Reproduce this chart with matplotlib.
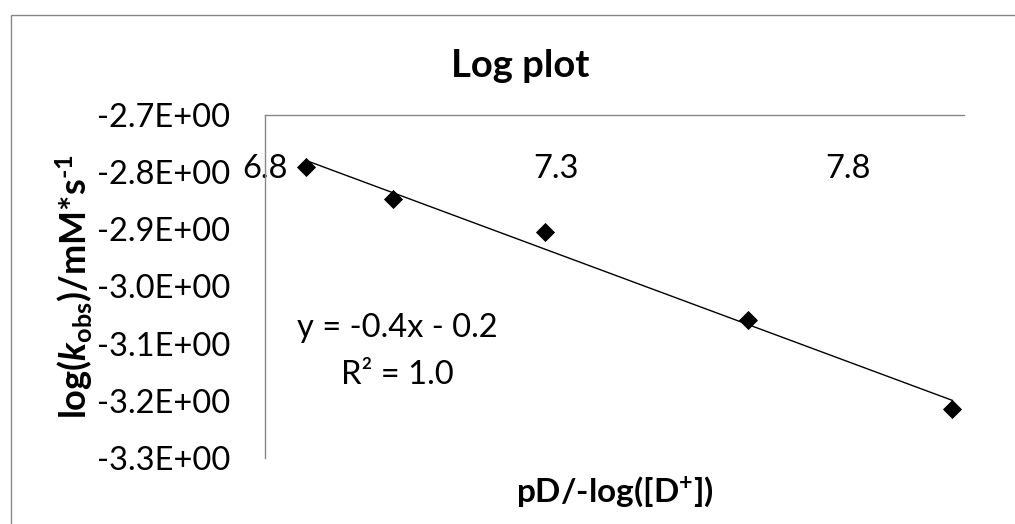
import matplotlib
matplotlib.use('Agg')
import matplotlib.pyplot as plt
import numpy as np
from matplotlib.ticker import FuncFormatter
from matplotlib.patches import Rectangle

# data
pD = [6.87, 7.02, 7.28, 7.63, 7.98]
log_kobs = [-2.791, -2.847, -2.905, -3.059, -3.214]
x_ticks = [6.8, 7.3, 7.8]
y_ticks = [-2.7, -2.8, -2.9, -3.0, -3.1, -3.2, -3.3]

plt.rcParams['font.family'] = ['Lato', 'DejaVu Sans']
plt.rcParams['mathtext.fontset'] = 'custom'
plt.rcParams['mathtext.rm'] = 'Lato:bold'
plt.rcParams['mathtext.bf'] = 'Lato:bold'
plt.rcParams['mathtext.it'] = 'Lato:italic:bold'

grey = '#878787'

fig = plt.figure(figsize=(10.15, 5.24), dpi=100)
ax = fig.add_axes([265/1015, 1 - 458/524, 699/1015, 343/524])

# outer chart border (only top/left visible)
fig.patches.append(Rectangle((11/1015, -0.1), 1.2, 1 - 15/524 + 0.1, transform=fig.transFigure,
                             fill=False, edgecolor=grey, lw=1.0))

ax.scatter(pD, log_kobs, marker='D', s=95, color='black', zorder=3, linewidths=0)

# linear trendline
slope, intercept = np.polyfit(pD, log_kobs, 1)
xs = np.array([min(pD), max(pD)])
ax.plot(xs, slope * xs + intercept, color='black', lw=1.0)
r2 = np.corrcoef(pD, log_kobs)[0, 1] ** 2

ax.set_xlim(6.8, 8.0)
ax.set_ylim(-3.3, -2.7)
ax.set_xticks(x_ticks)
ax.set_yticks(y_ticks)
ax.yaxis.set_major_formatter(FuncFormatter(lambda v, p: f'{v:.1E}'))
ax.xaxis.set_major_formatter(FuncFormatter(lambda v, p: f'{v:.1f}'))

for s in ['bottom', 'right']:
    ax.spines[s].set_visible(False)
for s in ['top', 'left']:
    ax.spines[s].set_color(grey)
    ax.spines[s].set_linewidth(1.0)

ax.tick_params(axis='x', top=True, bottom=False, labeltop=True, labelbottom=False,
               length=0, pad=-50, labelsize=23.5)
ax.tick_params(axis='y', length=0, pad=25, labelsize=23.5)

ax.text(0.189, 0.379, f'y = {slope:.1f}x - {abs(intercept):.1f}', transform=ax.transAxes,
        ha='center', va='center', fontsize=23.5)
ax.text(0.189, 0.242, f'R² = {r2:.1f}', transform=ax.transAxes,
        ha='center', va='center', fontsize=23.5)

fig.text(520/1015, 1 - 77/524, 'Log plot', ha='center', va='baseline',
         fontsize=27.5, fontweight='bold')

ax.set_xlabel('pD/-log([D$^{+}$])', fontsize=24, fontweight='bold')
ax.xaxis.set_label_coords(0.5, -0.05)
ax.set_ylabel(r'log($k_{\mathrm{obs}}$)/mM*s$^{\text{-1}}$', fontsize=26, fontweight='bold')
ax.yaxis.set_label_coords(-0.243, 0.5)

fig.savefig('out.png', dpi=100)
